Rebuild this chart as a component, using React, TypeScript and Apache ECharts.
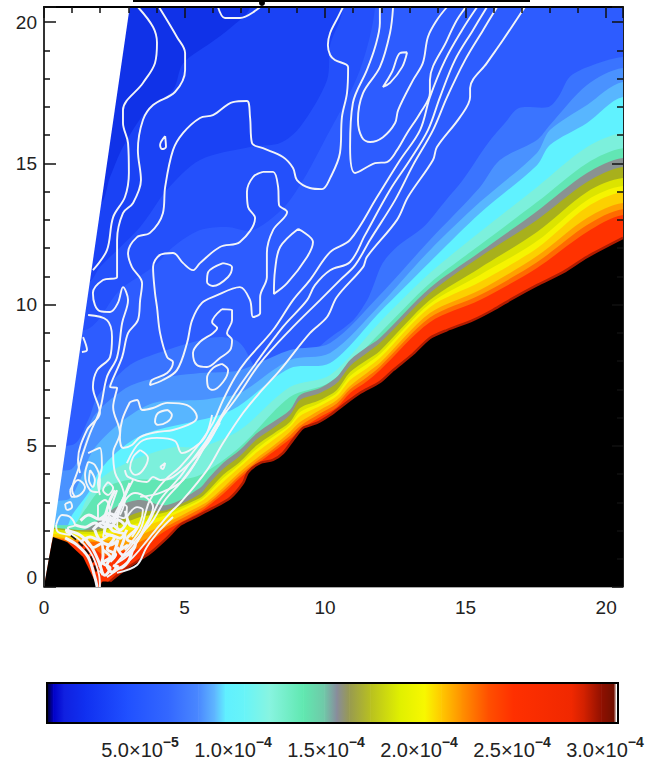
import React, { useEffect, useRef } from "react";
import * as echarts from "echarts";

type P = number[];

// ---- axis ranges and tick labels
const xMax = 20.6;
const yMax = 20.54;
const barTickLabels = ["", "5.0×10|-5", "1.0×10|-4", "1.5×10|-4", "2.0×10|-4", "2.5×10|-4", "3.0×10|-4"];

// ---- filled levels (lower-density side is above the curve)
const L1: P[] = [[7.33,20.54],[6.62,19.79],[5.91,19.26],[4.95,18.55],[4.59,17.6],[3.67,16.89],[2.81,15.58],[2.35,14.52],[1.92,13.53]];
const L2: P[] = [[10.64,20.54],[10.53,20.08],[10.18,19.19],[10.07,17.95],[9.11,16.29],[8.4,15.72],[7.33,15.58],[5.55,15.12],[4.37,14.06],[3.42,12.75],[1.99,11.33],[1.57,10.8]];
const L3: P[] = [[11.78,20.54],[11.24,18.31],[10.18,16.18],[8.75,13.7],[7.44,12.64],[6.51,12.75],[5.55,12.64],[4.59,12.04],[3.88,11.33],[2.7,10.52],[1.46,9.1]];
const E1: P[] = [[20.6,18.77],[19.32,18.41],[18.7,18.06],[18.3,17.35],[17.95,17.0],[16.9,16.96],[16.4,16.43],[15.8,15.72],[14.9,14.41],[14.3,13.7],[13.5,12.75],[12.55,12.04],[12.05,11.47],[11.7,10.62],[11.5,10.16],[11.0,9.45],[10.07,8.75],[9.35,8.14],[8.5,7.61],[7.93,7.51],[7.58,7.68],[6.97,8.64],[6.26,8.85],[5.19,8.64],[4.37,8.39],[3.17,7.93],[2.46,7.33],[1.89,6.73],[1.57,5.91],[1.0,5.03]];
const E2: P[] = [[20.6,18.38],[19.32,17.78],[18.0,16.36],[17.54,15.83],[16.22,15.12],[15.51,14.16],[13.73,12.29],[11.95,10.34],[10.18,8.64],[8.75,8.39],[6.97,7.68],[5.55,7.58],[3.67,7.33],[2.81,6.98],[1.75,6.02],[1.35,4.85],[0.9,4.14]];
const E3: P[] = [[20.6,17.88],[19.32,17.07],[18.0,16.18],[17.54,15.37],[15.51,13.63],[13.73,11.93],[11.95,9.99],[10.18,8.29],[8.75,8.04],[6.97,6.87],[6.08,6.69],[5.55,6.62],[3.89,6.52],[2.7,5.81],[1.75,4.85],[1.28,3.79],[0.8,3.08]];
const E4: P[] = [[20.6,17.35],[19.32,16.43],[18.0,15.65],[17.54,14.94],[15.51,13.24],[13.73,11.51],[11.95,9.74],[10.18,7.93],[8.75,7.75],[6.97,6.44],[6.26,6.09],[5.55,5.91],[3.67,5.45],[2.81,4.96],[1.99,4.14],[1.64,3.43],[1.0,2.55],[0.7,2.02]];
const E5: P[] = [[20.6,16.08],[19.32,15.58],[17.54,14.16],[15.51,12.57],[13.73,11.12],[11.95,9.38],[10.18,7.51],[8.75,7.08],[6.97,5.56],[5.55,4.95],[4.6,4.95],[3.17,4.5],[2.1,3.9],[1.5,3.08],[1.0,2.2]];
const E6: P[] = [[20.6,15.54],[19.32,15.01],[17.54,13.63],[15.51,12.11],[13.73,10.76],[11.95,8.99],[10.18,7.26],[8.75,6.73],[6.97,4.96],[5.55,3.97],[4.6,3.79],[3.0,3.79],[2.0,3.43],[1.45,2.73],[1.0,2.2]];
const E7: P[] = [[20.6,15.19],[19.32,14.66],[17.54,13.31],[15.51,11.86],[13.73,10.59],[11.95,8.82],[11.49,8.5],[10.89,8.04],[10.42,7.44],[9.82,7.05],[9.11,6.8],[8.75,6.27],[8.15,5.84],[7.58,5.45],[6.97,4.85],[6.37,4.39],[5.8,3.79],[5.55,3.51],[4.37,2.9],[3.42,3.08],[2.7,2.9],[2.16,2.55],[1.4,2.02]];
const E8: P[] = [[20.6,14.87],[19.32,14.34],[17.54,13.0],[15.51,11.69],[13.73,10.41],[11.95,8.64],[11.49,8.29],[10.89,7.83],[10.42,7.22],[9.82,6.87],[9.11,6.62],[8.75,6.09],[8.15,5.63],[7.58,5.24],[6.97,4.64],[6.37,4.18],[5.8,3.58],[5.55,3.29],[4.37,2.73],[3.42,2.66],[2.7,2.37],[1.8,2.02]];
const E9: P[] = [[20.6,14.48],[19.32,13.99],[17.54,12.57],[15.51,11.3],[13.73,10.16],[11.95,8.36],[11.49,8.04],[10.89,7.61],[10.42,6.98],[9.82,6.62],[9.11,6.34],[8.75,5.84],[8.15,5.42],[7.58,5.03],[6.97,4.43],[6.37,3.97],[5.8,3.36],[5.55,3.15],[4.37,2.66],[3.42,2.48],[2.7,2.2],[1.8,1.95]];
const E9b: P[] = [[20.6,14.2],[19.32,13.7],[17.54,12.25],[15.51,11.05],[13.73,10.03],[11.95,8.24],[11.49,7.9],[10.89,7.47],[10.42,6.87],[9.82,6.52],[9.11,6.2],[8.75,5.75],[8.15,5.32],[7.58,4.9],[6.97,4.34],[6.37,3.85],[5.8,3.28],[5.55,3.08],[4.37,2.55],[3.42,2.28],[2.7,2.08],[1.8,1.86]];
const E10: P[] = [[20.6,13.99],[19.32,13.46],[17.54,12.0],[15.51,10.8],[13.73,9.91],[11.95,8.11],[11.49,7.75],[10.89,7.33],[10.42,6.76],[9.82,6.41],[9.11,6.06],[8.75,5.67],[8.15,5.21],[7.58,4.78],[6.97,4.25],[6.37,3.72],[5.8,3.19],[5.55,3.01],[4.37,2.44],[3.42,2.09],[2.7,1.95],[1.8,1.77]];
const E11: P[] = [[20.6,13.6],[19.32,13.07],[17.54,11.72],[15.51,10.52],[13.73,9.7],[11.95,7.93],[11.49,7.58],[10.89,7.12],[10.42,6.62],[9.82,6.27],[9.11,5.84],[8.75,5.49],[8.15,4.99],[7.58,4.57],[6.97,4.07],[6.37,3.51],[5.8,3.01],[5.55,2.87],[4.37,2.27],[3.42,1.84],[2.7,1.66],[1.8,1.66]];
const E11b: P[] = [[20.6,13.38],[19.32,12.82],[17.54,11.5],[15.51,10.34],[13.73,9.54],[11.95,7.8],[11.49,7.43],[10.89,7.0],[10.42,6.5],[9.82,6.14],[9.11,5.7],[8.75,5.36],[8.15,4.88],[7.58,4.46],[6.97,3.96],[6.37,3.4],[5.8,2.92],[5.55,2.76],[4.37,2.14],[3.42,1.6],[2.7,1.45],[1.8,1.6]];
const E12: P[] = [[20.6,13.17],[19.32,12.57],[17.54,11.3],[15.51,10.16],[13.73,9.38],[11.95,7.68],[11.49,7.29],[10.89,6.87],[10.42,6.37],[9.82,6.02],[9.11,5.56],[8.75,5.24],[8.15,4.78],[7.58,4.36],[6.97,3.86],[6.37,3.29],[5.8,2.83],[5.55,2.66],[4.37,2.02],[3.42,1.38],[2.7,1.24],[2.2,1.1],[1.5,1.5]];
const levelColors = ["#1a42f5","#2450fb","#2d5cff","#3a74ff","#4a92ff","#58b6ff","#60f2ff","#7cf0dc","#62e6b4","#8a9292","#a8b01c","#dce400","#f6f400","#fcd000","#ffa000","#ff6a00","#ff3200"];

// ---- black regions and the empty wedge
const surface: P[] = [[1.99,0],[2.06,0.18],[2.35,0.2],[2.95,0.67],[3.77,1.2],[4.37,1.73],[4.84,2.2],[5.3,2.44],[6.01,2.8],[6.62,3.15],[7.08,3.68],[7.26,4.07],[7.68,4.39],[8.15,4.5],[8.5,4.74],[8.86,5.21],[9.21,5.63],[9.71,5.81],[10.18,6.09],[10.64,6.44],[11.24,6.87],[11.95,7.26],[12.42,7.68],[13.09,8.22],[13.73,8.82],[14.34,9.1],[15.26,9.45],[15.97,9.81],[16.69,10.23],[17.54,10.69],[18.47,11.15],[19.32,11.69],[20.6,12.36]];
const star: P[] = [[0,0],[0.07,0.42],[0.21,1.2],[0.32,1.77],[0.82,1.59],[1.39,1.06],[1.74,0.35],[1.89,0]];
const emptyWedge: P[] = [[0,0],[0,20.54],[3.05,20.54],[0.31,1.76]];

// ---- white contours
const C1: P[] = [[3.34,20.54],[3.88,19.83],[4.02,19.27],[3.95,18.56],[3.52,17.85],[2.81,16.89],[2.81,16.43],[2.99,15.72],[3.02,14.66],[2.88,13.81],[2.46,13.1],[2.24,11.93],[1.74,11.22]];
const C2: P[] = [[4.09,20.54],[4.73,19.48],[5.02,18.91],[5.02,18.31],[4.66,17.53],[3.88,17.07],[3.52,16.54],[3.34,15.47],[3.45,14.41],[3.17,13.6],[2.81,13.24],[2.6,12.29],[2.6,10.98],[2.1,10.87],[1.74,10.41],[1.81,9.99],[1.99,9.77],[2.35,9.74],[2.63,10.06],[2.81,10.62],[2.99,10.16],[2.78,9.35],[2.6,8.14],[2.24,7.44],[1.99,6.27],[1.64,5.45],[1.39,4.74],[1.21,4.14],[1.0,3.43],[1.1,3.19]];
const C2b: P[] = [[1.57,9.63],[2.24,9.45],[2.42,8.85],[2.35,8.14],[1.89,7.68],[1.74,7.08],[1.99,6.16],[1.53,5.56],[1.21,4.5],[1.28,4.04]];
const C2c: P[] = [[1.39,8.85],[1.53,8.39],[1.35,8.32]];
const C3: P[] = [[10.64,20.54],[10.46,20.18],[10.18,19.62],[10.1,19.19],[10.18,18.84],[10.35,18.66],[10.82,18.41],[10.78,17.49],[10.6,16.64],[10.53,15.37],[10.18,14.48],[9.89,14.09],[9.46,14.13],[9.0,14.41],[8.86,14.84],[8.5,15.23],[7.79,15.54],[7.4,15.72],[7.33,16.64],[7.22,17.21],[6.72,17.17],[6.01,16.71],[5.55,16.61],[4.95,16.08],[4.59,15.47],[4.31,14.16],[4.23,13.24],[3.77,12.54],[3.31,12.39],[2.99,11.83],[3.13,11.33],[3.49,10.76],[3.42,10.16],[3.34,9.45],[2.99,8.99],[2.78,8.14],[2.35,7.08],[2.6,7.05],[2.46,6.37],[2.7,5.45],[2.46,4.74],[2.53,4.04],[2.78,3.54],[2.88,3.08],[2.7,2.55]];
const C5: P[] = [[6.19,20.54],[6.44,20.15],[6.97,20.15],[7.69,20.54]];
const lineA: P[] = [[14.34,20.54],[13.98,20.08],[13.66,19.48],[13.48,18.56],[13.13,17.95],[12.6,16.89],[12.49,16.43],[12.06,15.93],[11.6,15.76],[11.31,15.93],[11.17,16.54],[11.35,17.49],[11.95,18.41],[12.31,19.62],[12.42,20.54]];
const lineB: P[] = [[11.95,20.54],[11.95,19.97],[11.78,19.12],[11.49,18.31],[10.99,17.14],[10.89,15.58],[11.07,14.66],[11.78,15.01],[12.2,15.05],[12.56,15.47],[12.92,16.08],[13.38,16.78],[13.73,17.49],[13.73,17.95],[14.34,19.37],[14.69,20.08],[15.01,20.54]];
const R1: P[] = [[15.41,20.54],[14.87,19.72],[14.27,18.66],[13.73,17.35],[13.38,16.18],[12.67,15.12],[11.85,13.81],[10.89,12.29],[10.18,11.86],[9.46,10.87],[8.86,10.16],[8.15,9.1],[7.22,8.04],[6.8,7.44],[6.37,6.62],[6.01,5.81],[5.55,5.1],[4.84,4.25],[4.31,3.79],[3.77,3.08],[3.59,2.55],[3.42,2.02],[2.88,1.31]];
const R2: P[] = [[15.76,20.54],[15.26,19.72],[14.62,18.66],[14.09,17.35],[13.66,16.18],[13.02,15.12],[12.31,14.06],[11.42,12.46],[10.89,11.51],[10.18,11.22],[9.64,10.69],[9.36,10.16],[8.5,9.21],[7.44,7.79],[6.87,6.98],[6.37,6.16],[5.8,5.21],[5.09,4.25],[4.84,3.9],[4.13,3.08],[3.77,2.37],[3.24,1.49],[2.7,0.96]];
const R3: P[] = [[16.12,20.54],[15.62,19.72],[14.98,18.66],[14.34,17.35],[13.84,16.18],[13.13,14.94],[12.49,13.7],[11.6,12.29],[11.07,11.4],[10.53,10.87],[9.82,10.16],[8.75,9.1],[7.69,7.93],[6.87,6.73],[6.01,5.56],[5.44,4.5],[4.84,3.68],[4.31,3.08],[3.84,2.3],[3.42,1.84],[2.88,1.2],[2.53,0.78]];
const R4: P[] = [[17.11,20.54],[16.33,19.37],[15.76,18.56],[15.16,17.67],[15.16,17.35],[14.8,16.64],[13.98,15.58],[13.84,15.12],[12.95,13.81],[12.56,13.0],[11.49,11.69],[11.35,11.33],[10.42,10.27],[10.07,9.56],[9.46,8.99],[8.4,7.68],[7.69,6.9],[7.08,6.16],[6.37,5.1],[5.8,4.14],[4.84,2.97],[4.48,2.62],[3.77,1.77],[3.17,1.06],[2.6,0.6],[2.24,0.35]];
const Fup: P[] = [[2.95,4.39],[3.42,5.13],[4.02,5.28],[4.66,5.17],[4.91,4.74],[5.55,5.1],[5.8,5.45],[5.98,6.09]];
const Flow: P[] = [[2.88,4.14],[2.99,3.9],[3.66,3.72],[3.88,3.9],[4.13,3.79],[4.59,3.9],[5.3,4.5],[5.91,5.21],[6.44,6.27]];
const G: P[] = [[3.42,3.19],[4.13,3.33],[4.95,3.79],[5.8,5.1],[6.26,5.81]];
const H1: P[] = [[1.57,4.74],[1.99,4.92],[2.06,4.25],[1.92,3.68],[1.99,3.26]];
const P1: P[] = [[2.6,3.43],[2.24,2.37],[2.1,1.77]];
const P2: P[] = [[3.17,3.79],[2.35,2.27]];
const P3: P[] = [[2.95,2.48],[3.31,2.83],[3.52,2.73],[3.42,2.27],[3.13,1.77]];
const P4: P[] = [[2.6,2.02],[2.7,2.73],[3.24,3.33],[3.66,3.15],[3.88,2.83],[3.52,2.02],[3.06,1.2],[2.6,0.85]];
const P5: P[] = [[4.59,2.48],[4.13,2.02],[3.66,1.42],[3.31,0.78],[2.6,0.5]];
const openContours = [C1,C2,C2b,C2c,C3,C5,lineA,lineB,R1,R2,R3,R4,Fup,Flow,G,H1,P1,P2,P3,P4,P5];

const C4: P[] = [[4.31,15.97],[4.13,15.65],[4.2,15.51],[4.34,15.58]];
const C6: P[] = [[7.79,14.7],[8.15,14.7],[8.33,14.16],[8.36,13.53],[8.65,13.28],[8.15,12.64],[7.93,11.83],[7.93,10.98],[7.69,10.27],[7.69,9.7],[7.44,9.56],[7.33,10.16],[6.97,10.62],[6.08,10.3],[5.62,10.06],[5.27,9.45],[5.09,8.64],[4.73,7.68],[4.23,7.33],[3.77,7.15],[3.84,7.33],[4.38,7.58],[4.59,7.97],[4.38,8.14],[4.13,8.99],[4.02,9.91],[3.95,10.41],[3.88,11.33],[4.13,11.76],[4.59,11.83],[4.95,11.47],[5.3,11.22],[5.55,11.47],[6.26,12.04],[6.97,12.22],[7.51,13.07],[7.26,13.46],[7.22,13.99],[7.44,14.52]];
const C7: P[] = [[9.04,12.68],[9.57,12.22],[9.36,11.69],[8.65,10.76],[8.18,10.38],[8.22,11.22],[8.4,12.04]];
const C8: P[] = [[6.37,11.47],[6.69,11.33],[6.55,10.98],[6.01,10.66],[5.8,10.8],[5.84,11.15]];
const C9: P[] = [[6.33,9.84],[6.69,9.81],[6.69,9.45],[6.51,8.99],[6.69,8.75],[6.62,8.39],[6.26,8.11],[5.8,7.79],[5.44,7.86],[5.3,8.29],[5.55,8.68],[6.01,8.99],[6.16,9.17],[5.98,9.38]];
const C10: P[] = [[6.33,7.9],[6.55,7.68],[6.37,7.26],[6.01,6.98],[5.84,7.08],[5.8,7.4],[6.01,7.75]];
const tinyU: P[] = [[12.92,18.94],[12.67,18.91],[12.38,18.24],[12.06,17.71],[12.31,17.85],[12.74,18.41]];
const D: P[] = [[3.06,6.55],[3.31,6.62],[3.49,6.27],[3.88,6.34],[4.38,6.52],[5.09,6.44],[5.44,6.02],[5.27,5.81],[4.59,5.56],[4.02,5.49],[3.42,5.31],[3.13,5.03],[2.81,4.92],[2.7,5.31],[2.78,5.91]];
const oval1: P[] = [[4.41,6.27],[4.55,6.09],[4.38,5.84],[4.06,5.74],[3.95,5.84],[4.06,6.16]];
const oval2: P[] = [[3.42,4.85],[3.7,4.57],[3.52,4.14],[3.24,3.97],[3.06,4.21],[3.17,4.6]];
const dot: P[] = [[4.13,4.25],[4.31,4.39],[4.23,4.18]];
const H2: P[] = [[1.57,4.43],[1.81,4.32],[1.99,3.79],[1.92,3.36],[1.64,3.43],[1.46,3.97]];
const H3: P[] = [[1.64,4.14],[1.81,3.79],[1.74,3.54],[1.6,3.79]];
const H4: P[] = [[2.28,3.72],[2.46,3.51],[2.28,3.26],[2.1,3.43]];
const H5: P[] = [[0.93,3.43],[1.21,3.79],[1.46,3.54],[1.28,3.26],[1.0,3.19]];
const H6: P[] = [[0.75,2.94],[0.93,3.01],[1.0,2.83],[0.82,2.73]];
const H7: P[] = [[0.43,2.2],[0.64,2.55],[0.93,2.48],[1.1,2.2],[0.85,2.09],[1.0,1.84],[0.5,1.95]];
const H8: P[] = [[1.92,2.9],[2.17,3.08],[2.35,2.73],[2.21,2.37],[1.92,2.44]];
const H9: P[] = [[2.7,2.97],[2.95,2.83],[2.85,2.44],[2.63,2.55]];
const closedContours = [C4,C6,C7,C8,C9,C10,tinyU,D,oval1,oval2,dot,H2,H3,H4,H5,H6,H7,H8,H9];

const M1: P[] = [[1.1,2.2],[1.46,2.12],[1.81,2.27],[2.1,2.12],[2.42,2.2],[2.7,2.02],[2.99,2.37]];
const M2: P[] = [[1.81,2.02],[1.99,1.66],[2.35,1.49],[2.63,1.66],[2.46,1.13],[2.24,0.78],[2.42,0.53],[2.63,0.78]];
const M3: P[] = [[0.75,2.02],[1.28,1.84],[1.64,1.49],[1.92,0.96],[2.1,0.42]];
const M4: P[] = [[2.17,2.55],[2.42,2.02],[2.88,1.84],[2.7,1.31],[2.99,1.49]];
const M5: P[] = [[1.28,1.56],[1.64,1.77],[1.99,1.66],[2.35,1.84],[2.7,1.73],[2.95,2.02]];
const M6: P[] = [[1.74,2.02],[2.06,2.27],[2.35,2.12],[2.63,2.37],[2.88,2.2]];
const M7: P[] = [[2.1,1.31],[2.35,1.06],[2.1,0.85],[2.35,0.67],[2.17,0.42],[1.99,0.6]];
const M8: P[] = [[2.6,1.42],[2.81,1.13],[3.13,1.24],[2.99,0.89],[2.7,0.67],[2.46,0.78]];
const M11: P[] = [[2.1,2.27],[2.24,2.73],[2.35,3.08],[2.53,3.43]];
const M12: P[] = [[2.42,2.27],[2.63,2.62],[2.81,3.08],[3.06,3.68]];
const M13: P[] = [[1.45,1.75],[1.75,1.4],[2.05,1.55],[2.1,1.1],[1.98,0.7]];
const M14: P[] = [[2.4,2.5],[2.15,1.95],[2.5,1.75],[2.25,1.35],[2.55,1.15],[2.35,0.9]];
const M15: P[] = [[2.9,2.7],[3.05,2.2],[3.3,2.1],[2.95,1.7],[3.25,1.5],[3.0,1.1]];
const M16: P[] = [[1.3,2.35],[1.6,2.55],[1.95,2.4],[2.3,2.6],[2.6,2.5]];
const messContours = [M1,M2,M3,M4,M5,M6,M7,M8,M11,M12,M13,M14,M15,M16];
const A1: P[] = [[1.89,0],[1.81,0.35],[1.57,1.06],[1.17,1.49],[0.75,1.74]];
const A2: P[] = [[1.99,0],[1.96,0.42],[1.71,1.13],[1.28,1.66],[0.78,1.95]];
const A3: P[] = [[1.86,0.55],[1.65,1.1],[1.25,1.58],[0.95,1.82]];

// ---- colour bar (values in units of 1e-5)
const barValues = [0,0.34,0.9,2.03,4.29,6.55,8.13,9.03,9.59,10.6,11.96,13.77,14.9,15.57,16.25,17.38,18.96,20.3,21.2,22.3,23.7,25.05,28.2,28.9,29.8,30.47,30.6,30.7];
const barColors = ["#000030","#0000c8","#1020e0","#1030f0","#2050ff","#3468ff","#4a88ff","#60b8ff","#60f0ff","#68f4f8","#88f4e0","#60e8b0","#70c8a8","#888c9c","#989a50","#b8c020","#e0f000","#f8f800","#ffc800","#ff9000","#ff5000","#ff3000","#f02800","#d02000","#901000","#701000","#ffffff","#ffffff"];

const FONT = "'Liberation Sans', Arial, sans-serif";

function polygonSeries(points: P[], fill: string, smooth: number) {
  return {
    type: "custom",
    xAxisIndex: 0,
    yAxisIndex: 0,
    clip: true,
    silent: true,
    z: 2,
    data: points,
    encode: { x: 0, y: 1 },
    renderItem: (params: any, api: any) => {
      if (params.dataIndex !== 0) return null;
      return {
        type: "polygon",
        shape: { points: points.map((d) => api.coord(d)), smooth },
        style: { fill, stroke: fill, lineWidth: 0 },
      };
    },
  };
}

function fillLevel(curve: P[]) {
  const first = curve[0];
  const last = curve[curve.length - 1];
  const head: P[] = first[1] >= yMax ? [[24, 24], [first[0], 24]] : [[24, first[1]]];
  return [...head, ...curve, [-3, last[1]], [-3, -3], [24, -3]];
}

function contourSeries(points: P[], width: number, closed: boolean, color = "#f2f4f8", smooth = 0.35, type = "solid") {
  return {
    type: "line",
    xAxisIndex: 0,
    yAxisIndex: 0,
    data: closed ? [...points, points[0]] : points,
    showSymbol: false,
    symbol: "none",
    smooth,
    silent: true,
    z: 4,
    lineStyle: { color, width, type },
  };
}

function barSeries() {
  return {
    type: "custom",
    xAxisIndex: 2,
    yAxisIndex: 2,
    silent: true,
    z: 2,
    data: barValues.slice(0, -1).map((v, i) => [v, barValues[i + 1]]),
    encode: { x: [0, 1] },
    renderItem: (params: any, api: any) => {
      const a = api.coord([api.value(0), 1]);
      const b = api.coord([api.value(1), 0]);
      return {
        type: "rect",
        shape: { x: a[0], y: a[1], width: b[0] - a[0] + 0.6, height: b[1] - a[1] },
        style: {
          fill: new echarts.graphic.LinearGradient(0, 0, 1, 0, [
            { offset: 0, color: barColors[params.dataIndex] },
            { offset: 1, color: barColors[params.dataIndex + 1] },
          ]),
        },
      };
    },
  };
}

export default function App() {
  const ref = useRef<HTMLDivElement>(null);
  useEffect(() => {
    const chart = echarts.init(ref.current!, undefined, { renderer: "svg" });
    const levels = [L1, L2, L3, E1, E2, E3, E4, E5, E6, E7, E8, E9, E9b, E10, E11, E11b, E12];
    const tickLine = { color: "#111", width: 1.5 };
    const common = {
      type: "value" as const,
      z: 10,
      splitLine: { show: false },
    };
    const lastS = surface[surface.length - 1];
    chart.setOption({
      animation: false,
      backgroundColor: "#fff",
      grid: [
        { left: 44, top: 7, width: 579, height: 580, containLabel: false },
        { left: 47, top: 683, width: 571, height: 48, show: true, borderColor: "#000", borderWidth: 2, backgroundColor: "transparent", z: 5 },
      ],
      xAxis: [
        {
          ...common, gridIndex: 0, position: "bottom", min: 0, max: xMax, interval: 5,
          axisLine: { show: true, onZero: false, lineStyle: { color: "#aaa", width: 1 } },
          axisTick: { show: false },
          axisLabel: { show: true, color: "#222", fontFamily: FONT, fontSize: 19, margin: 11 },
        },
        {
          ...common, gridIndex: 0, position: "top", min: 0, max: xMax, interval: 5,
          axisLine: { show: true, onZero: false, lineStyle: { color: "#000", width: 2 } },
          axisTick: { show: true, inside: true, length: 11, lineStyle: tickLine },
          minorTick: { show: true, splitNumber: 5, length: 6, lineStyle: tickLine },
          axisLabel: { show: false },
        },
        {
          type: "value", gridIndex: 1, min: 0, max: 30.7, interval: 5, z: 10,
          splitLine: { show: false },
          axisLine: { show: false },
          axisTick: { show: false },
          axisLabel: {
            show: true,
            showMinLabel: false,
            margin: 9,
            fontFamily: FONT,
            formatter: (v: number) => {
              const parts = barTickLabels[Math.round(v / 5)];
              if (!parts) return "";
              const [m, e] = parts.split("|");
              return `{n|${m}}{s|${e.replace("-", "−")}}`;
            },
            rich: {
              n: { fontFamily: FONT, fontSize: 20, color: "#222", padding: [8, 0, 0, 0] },
              s: { fontFamily: FONT, fontSize: 14, fontWeight: "bold", color: "#222", padding: [0, 0, 8, 0] },
            },
          },
        },
      ],
      yAxis: [
        {
          ...common, gridIndex: 0, position: "left", min: 0, max: yMax, interval: 5,
          axisLine: { show: true, onZero: false, lineStyle: { color: "#333", width: 2 } },
          axisTick: { show: true, inside: true, length: 12, lineStyle: tickLine },
          minorTick: { show: true, splitNumber: 5, length: 6, lineStyle: tickLine },
          axisLabel: { show: true, color: "#222", fontFamily: FONT, fontSize: 19, margin: 7, verticalAlignMinLabel: "bottom" },
        },
        {
          ...common, gridIndex: 0, position: "right", min: 0, max: yMax, interval: 5,
          axisLine: { show: true, onZero: false, lineStyle: { color: "#222", width: 1 } },
          axisTick: { show: true, inside: true, length: 11, lineStyle: tickLine },
          minorTick: { show: true, splitNumber: 5, length: 6, lineStyle: tickLine },
          axisLabel: { show: false },
        },
        {
          type: "value", gridIndex: 1, min: 0, max: 1, z: 10,
          splitLine: { show: false }, axisLine: { show: false }, axisTick: { show: false }, axisLabel: { show: false },
        },
      ],
      series: [
        polygonSeries([[-3, -3], [-3, 24], [24, 24], [24, -3]], "#1032e8", 0),
        ...levels.map((c, i) => polygonSeries(fillLevel(c), levelColors[i], 0.3)),
        polygonSeries([[-3, 0], ...surface, [24, lastS[1] + 1.7], [24, -3], [-3, -3]], "#000", 0.25),
        contourSeries(surface.slice(2), 2.5, false, "#b01c00", 0.25),
        polygonSeries(emptyWedge, "#fff", 0),
        polygonSeries(star, "#000", 0),
        ...openContours.map((c) => contourSeries(c, 1.9, false)),
        ...closedContours.map((c) => contourSeries(c, 1.9, true)),
        ...messContours.map((c) => contourSeries(c, 3, false)),
        contourSeries(A1, 3, false),
        contourSeries(A2, 1.9, false),
        contourSeries(A3, 1.6, false, "#111", 0.3, "dashed"),
        barSeries(),
      ],
      graphic: [
        { type: "rect", left: 133, top: 0, shape: { width: 397, height: 2 }, style: { fill: "#000" }, z: 20 },
        { type: "circle", left: 259, top: 0, shape: { r: 3 }, style: { fill: "#000" }, z: 20 },
      ],
    });
    return () => chart.dispose();
  }, []);
  return <div ref={ref} style={{ position: "absolute", left: 0, top: 0, width: 660, height: 760 }} />;
}
